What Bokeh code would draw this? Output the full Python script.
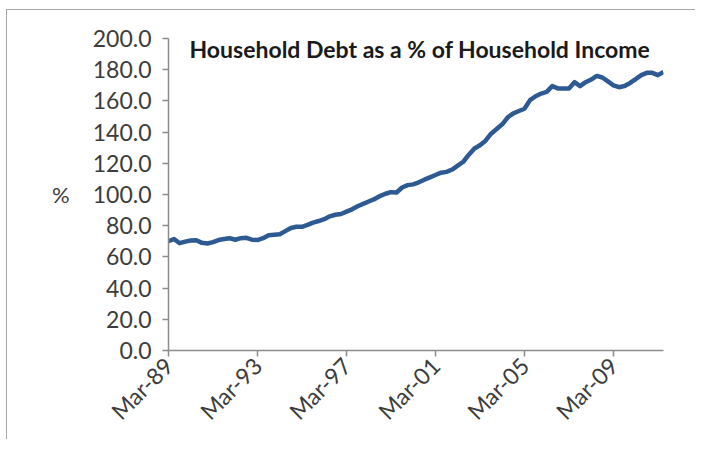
import math
from bokeh.plotting import figure
from bokeh.models import ColumnDataSource, FixedTicker, NumeralTickFormatter, Label
from bokeh.embed import file_html
from bokeh.resources import INLINE

# Quarterly household debt as % of household income, Mar-89 .. Jun-11
debt_ratio = [
    70.0, 71.5, 68.8, 69.8, 70.5, 70.7, 69.0, 68.6, 69.5, 70.8,
    71.5, 72.0, 71.0, 72.0, 72.2, 71.0, 70.8, 72.0, 73.9, 74.2,
    74.5, 76.5, 78.5, 79.3, 79.3, 80.5, 82.0, 83.0, 84.2, 86.0,
    87.0, 87.5, 89.0, 90.5, 92.5, 94.0, 95.5, 97.0, 99.0, 100.5,
    101.5, 101.3, 104.5, 106.0, 106.5, 107.8, 109.5, 111.0, 112.5, 114.0,
    114.5, 116.0, 118.5, 121.0, 125.5, 129.5, 131.6, 134.5, 139.0, 142.0,
    145.0, 149.5, 152.0, 153.5, 155.0, 160.5, 163.0, 164.7, 165.8, 169.5,
    168.0, 168.0, 168.0, 172.0, 169.5, 172.0, 173.7, 176.0, 175.0, 172.5,
    170.0, 168.8, 169.5, 171.5, 174.0, 176.5, 178.0, 178.0, 176.5, 178.5,
]
tick_positions = [0, 16, 32, 48, 64, 80]
tick_labels = ["Mar-89", "Mar-93", "Mar-97", "Mar-01", "Mar-05", "Mar-09"]
y_ticks = [0, 20, 40, 60, 80, 100, 120, 140, 160, 180, 200]
title_text = "Household  Debt as a % of Household  Income"

src = ColumnDataSource(dict(q=list(range(len(debt_ratio))), v=debt_ratio))

p = figure(width=689, height=430, output_backend="svg", toolbar_location=None,
           x_range=(0, len(debt_ratio) - 1), y_range=(0, 200),
           min_border_left=161, min_border_right=33, min_border_top=28, min_border_bottom=90,
           styles={"margin-top": "9px", "margin-left": "6px",
                   "border-top": "1px solid #a6a6a6",
                   "border-left": "1px solid #a6a6a6"})
p.outline_line_color = None
p.grid.visible = False
p.background_fill_color = "white"
p.border_fill_color = "white"

p.line("q", "v", source=src, line_color="#2E5A94", line_width=4.5, line_join="round")

axis_color = "#8c8c8c"
font = "Lato"
for ax in (p.xaxis[0], p.yaxis[0]):
    ax.axis_line_color = axis_color
    ax.axis_line_width = 1.5
    ax.major_tick_line_color = axis_color
    ax.major_tick_line_width = 1.5
    ax.major_tick_in = 0
    ax.major_tick_out = 6
    ax.minor_tick_line_color = None
    ax.major_label_text_font = font
    ax.major_label_text_font_size = "23px"
    ax.major_label_text_color = "#3c3c3c"

p.yaxis.ticker = FixedTicker(ticks=y_ticks)
p.yaxis.formatter = NumeralTickFormatter(format="0.0")
p.yaxis.major_label_standoff = 11
p.yaxis.axis_label = "%"
p.yaxis.axis_label_orientation = "horizontal"
p.yaxis.axis_label_text_font = font
p.yaxis.axis_label_text_font_style = "normal"
p.yaxis.axis_label_text_font_size = "22px"
p.yaxis.axis_label_text_color = "#3c3c3c"
p.yaxis.axis_label_standoff = 20

p.xaxis.ticker = FixedTicker(ticks=tick_positions)
p.xaxis.major_label_overrides = {t: l for t, l in zip(tick_positions, tick_labels)}
p.xaxis.major_label_orientation = math.pi / 4
p.xaxis.major_label_standoff = 5

p.add_layout(Label(x=21, y=302, x_units="screen", y_units="screen", text=title_text,
                   text_font=font, text_font_style="bold", text_font_size="23px",
                   text_color="#1a1a1a", text_align="left", text_baseline="middle"))

open("out.html", "w").write(file_html(p, INLINE))
